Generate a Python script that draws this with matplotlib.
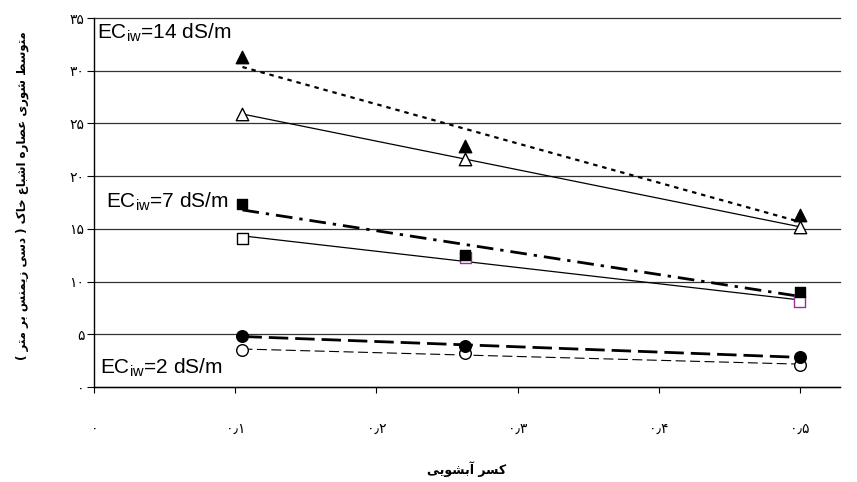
import numpy as np
import matplotlib
matplotlib.use('Agg')
import matplotlib.pyplot as plt

# کسر آبشویی (leaching fraction)
leach = [0.105, 0.263, 0.5]

# EC_iw = 14 dS/m
ec14_filled = [31.3, 22.9, 16.3]
ec14_open = [25.9, 21.6, 15.2]
# EC_iw = 7 dS/m
ec7_filled = [17.4, 12.5, 9.0]
ec7_open = [14.1, 12.3, 8.1]
# EC_iw = 2 dS/m
ec2_filled = [4.85, 3.9, 2.85]
ec2_open = [3.5, 3.2, 2.1]

x_ticks = [0, 0.1, 0.2, 0.3, 0.4, 0.5]
y_ticks = [0, 5, 10, 15, 20, 25, 30, 35]

ylabel_fa = 'متوسط شوری عصاره اشباع خاک ( دسی زیمنس بر متر )'
xlabel_fa = 'کسر آبشویی'

# فرم های حروف: (تنها، پایانی، آغازی، میانی)
FORMS = {
    'ا': ('\uFE8D', '\uFE8E', None, None),
    'آ': ('\uFE81', '\uFE82', None, None),
    'ب': ('\uFE8F', '\uFE90', '\uFE91', '\uFE92'),
    'ت': ('\uFE95', '\uFE96', '\uFE97', '\uFE98'),
    'خ': ('\uFEA5', '\uFEA6', '\uFEA7', '\uFEA8'),
    'د': ('\uFEA9', '\uFEAA', None, None),
    'ر': ('\uFEAD', '\uFEAE', None, None),
    'ز': ('\uFEAF', '\uFEB0', None, None),
    'س': ('\uFEB1', '\uFEB2', '\uFEB3', '\uFEB4'),
    'ش': ('\uFEB5', '\uFEB6', '\uFEB7', '\uFEB8'),
    'ص': ('\uFEB9', '\uFEBA', '\uFEBB', '\uFEBC'),
    'ط': ('\uFEC1', '\uFEC2', '\uFEC3', '\uFEC4'),
    'ع': ('\uFEC9', '\uFECA', '\uFECB', '\uFECC'),
    'م': ('\uFEE1', '\uFEE2', '\uFEE3', '\uFEE4'),
    'ن': ('\uFEE5', '\uFEE6', '\uFEE7', '\uFEE8'),
    'ه': ('\uFEE9', '\uFEEA', '\uFEEB', '\uFEEC'),
    'و': ('\uFEED', '\uFEEE', None, None),
    'ی': ('\uFBFC', '\uFBFD', '\uFBFE', '\uFBFF'),
    'ک': ('\uFB8E', '\uFB8F', '\uFB90', '\uFB91'),
}


def farsi(text):
    # شکل دادن حروف و برگرداندن ترتیب برای نمایش
    out = []
    for i, ch in enumerate(text):
        if ch not in FORMS:
            out.append(ch)
            continue
        prev = text[i - 1] if i > 0 else ''
        nxt = text[i + 1] if i + 1 < len(text) else ''
        join_prev = prev in FORMS and FORMS[prev][2] is not None
        join_next = FORMS[ch][2] is not None and nxt in FORMS
        f = FORMS[ch]
        if join_prev and join_next:
            out.append(f[3])
        elif join_prev:
            out.append(f[1])
        elif join_next:
            out.append(f[2])
        else:
            out.append(f[0])
    s = ''.join(reversed(out))
    return s.translate(str.maketrans('()', ')('))


def fa_num(v):
    s = ('%g' % v).replace('.', '٫')
    return s.translate(str.maketrans('0123456789', '۰۱۲۳۴۵۶۷۸۹'))


plt.rcParams['font.family'] = ['DejaVu Sans']
plt.rcParams['mathtext.fontset'] = 'custom'
plt.rcParams['mathtext.rm'] = 'Liberation Sans'
label_font = ['Liberation Sans']

fig = plt.figure(figsize=(8.57, 4.82), dpi=100)
ax = fig.add_axes([94.3 / 857, 1 - 387 / 482, (840 - 94.3) / 857, (387 - 18) / 482])

purple = '#9B2D9B'


def trend(y, **kw):
    k, b = np.polyfit(leach, y, 1)
    xs = np.array([leach[0], leach[-1]])
    ax.plot(xs, k * xs + b, color='black', zorder=2, **kw)


trend(ec14_filled, lw=1.6, linestyle=(0, (2, 2.2)))
trend(ec14_open, lw=0.9, linestyle='-')
trend(ec7_filled, lw=2.0, linestyle=(0, (6, 2.5, 1.2, 2.5)))
trend(ec7_open, lw=0.9, linestyle='-')
trend(ec2_filled, lw=2.0, linestyle=(0, (7, 2.5)))
trend(ec2_open, lw=0.8, linestyle=(0, (9, 4)))

# نشانه های توخالی
ax.scatter(leach, ec14_open, marker='^', s=80, facecolor='white', edgecolor='black', linewidth=1, zorder=3)
ax.scatter(leach, ec7_open, marker='s', s=64, facecolor='white',
           edgecolor=['black', purple, purple], linewidth=1, zorder=3)
ax.scatter(leach, ec2_open, marker='o', s=70, facecolor='white', edgecolor='black', linewidth=1, zorder=3)
# نشانه های توپر
ax.scatter(leach, ec14_filled, marker='^', s=80, color='black', zorder=4)
ax.scatter(leach, ec7_filled, marker='s', s=60, color='black', zorder=4)
ax.scatter(leach, ec2_filled, marker='o', s=70, color='black', zorder=4)

ax.text(0.002, 33.6, r'EC$_{\mathrm{iw}}$=14 dS/m', fontsize=15, family=label_font, va='center', ha='left')
ax.text(0.008, 17.6, r'EC$_{\mathrm{iw}}$=7 dS/m', fontsize=15, family=label_font, va='center', ha='left')
ax.text(0.004, 1.8, r'EC$_{\mathrm{iw}}$=2 dS/m', fontsize=15, family=label_font, va='center', ha='left')

ax.set_xlim(0, 0.5285)
ax.set_ylim(0, 35)
ax.set_xticks(x_ticks)
ax.set_xticklabels([fa_num(v) for v in x_ticks])
ax.set_yticks(y_ticks)
ax.set_yticklabels([fa_num(v) for v in y_ticks])
ax.tick_params(axis='x', direction='out', length=4, width=0.8, pad=21, labelsize=10)
ax.tick_params(axis='y', direction='out', length=5, width=0.8, pad=2, labelsize=10)

ax.yaxis.grid(True, color='#333333', linewidth=0.9)
for gl in ax.get_ygridlines():
    gl.set_clip_on(False)
ax.set_axisbelow(True)
for side in ['top', 'right']:
    ax.spines[side].set_visible(False)
ax.spines['left'].set_linewidth(1)
ax.spines['bottom'].set_linewidth(1)

fig.text(22 / 857, 1 - 196 / 482, farsi(ylabel_fa), rotation=90, fontsize=8.5,
         fontweight='bold', ha='center', va='center')
fig.text(467 / 857, 1 - 469 / 482, farsi(xlabel_fa), fontsize=9,
         fontweight='bold', ha='center', va='center')

fig.savefig('out.png', dpi=100)
